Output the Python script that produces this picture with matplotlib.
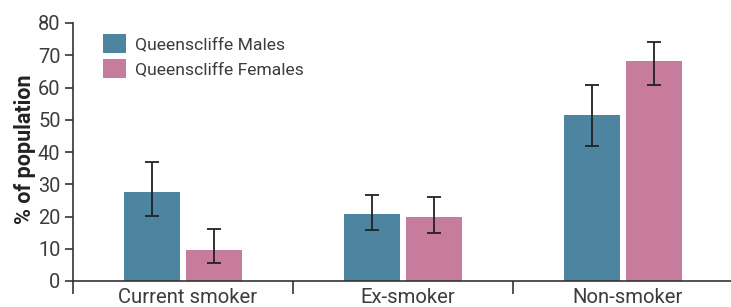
import matplotlib.pyplot as plt
import numpy as np
from matplotlib.ticker import FixedLocator

# Данные
categories = ['Current smoker', 'Ex-smoker', 'Non-smoker']
males = [27.6, 20.8, 51.5]
males_lo = [20.2, 15.7, 42.0]
males_hi = [36.9, 26.8, 60.9]
females = [9.6, 19.8, 68.2]
females_lo = [5.6, 15.0, 60.8]
females_hi = [16.1, 26.0, 74.2]

male_color = '#4d84a0'
female_color = '#c77c9d'
text_color = '#3c3c3c'

plt.rcParams['font.family'] = ['Roboto', 'DejaVu Sans']

fig = plt.figure(figsize=(7.31, 3.07), dpi=100)
ax = fig.add_axes([73 / 731, 26 / 307, 660 / 731, 258 / 307])

x = np.arange(len(categories))
w = 0.255
off = 0.141

m = np.array(males)
f = np.array(females)
m_err = [m - np.array(males_lo), np.array(males_hi) - m]
f_err = [f - np.array(females_lo), np.array(females_hi) - f]

ax.bar(x - off, m, width=w, color=male_color, label='Queenscliffe Males')
ax.bar(x + off, f, width=w, color=female_color, label='Queenscliffe Females')
ax.errorbar(x - off, m, yerr=m_err, fmt='none', ecolor='#222222',
            elinewidth=1.3, capsize=5, capthick=1.3)
ax.errorbar(x + off, f, yerr=f_err, fmt='none', ecolor='#222222',
            elinewidth=1.3, capsize=5, capthick=1.3)

ax.set_xlim(-0.5, 2.5)
ax.set_ylim(0, 80)
ax.set_yticks(range(0, 81, 10))

ax.set_xticks(x + 0.02)
ax.set_xticklabels(categories)
ax.xaxis.set_minor_locator(FixedLocator([-0.5, 0.5, 1.5, 2.5]))
ax.tick_params(axis='x', which='major', length=0, pad=5,
               labelsize=14.6, labelcolor=text_color)
ax.tick_params(axis='x', which='minor', length=9, width=1.2, color='#333333')
ax.tick_params(axis='y', length=6, width=1.2, color='#333333',
               labelsize=14.4, labelcolor=text_color, pad=3)

for side in ['top', 'right']:
    ax.spines[side].set_visible(False)
ax.spines['left'].set_color('#333333')
ax.spines['bottom'].set_color('#333333')
ax.spines['left'].set_linewidth(1.2)
ax.spines['bottom'].set_linewidth(1.2)
ax.spines['left'].set_bounds(0, 80)

ax.set_ylabel('% of population', fontsize=15.5, fontweight='bold',
              color='#222222')
ax.yaxis.set_label_coords(-0.056, 0.51)

leg = ax.legend(loc='upper left', bbox_to_anchor=(0.035, 0.985), frameon=False,
                handlelength=1.3, handleheight=1.3,
                handletextpad=0.5, labelspacing=0.35, labelcolor=text_color,
                borderaxespad=0, prop={'size': 12.6})

fig.savefig('out.png', dpi=100)
